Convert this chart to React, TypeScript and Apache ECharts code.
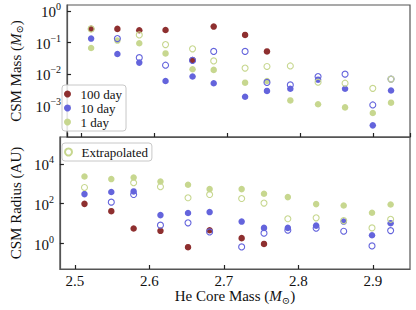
import React, { useEffect, useRef } from "react";
import * as echarts from "echarts";

// He core mass (x) for each model column
const heCoreMass = [2.513, 2.549, 2.579, 2.615, 2.652, 2.681, 2.724, 2.754, 2.786, 2.824, 2.861, 2.899, 2.924];

// CSM mass (Msun)
const mass100 = [0.27, 0.27, 0.245, 0.25, 0.0275, 0.32, 0.174, 0.052, null, null, null, null, null];
const mass10 = [0.133, 0.043, 0.023, 0.006, 0.0083, 0.0051, 0.0019, 0.0029, 0.0034, 0.0066, 0.0034, 0.000234, 0.003];
const mass1 = [0.067, 0.115, 0.095, 0.045, 0.0142, 0.0135, 0.0053, 0.006, 0.00145, 0.0011, 0.00087, 0.00058, 0.00123];
const mass10Ext = [null, 0.133, 0.033, 0.019, 0.027, 0.052, 0.052, 0.0054, 0.0045, 0.0083, 0.0099, 0.00104, 0.0069];
const mass1Ext = [0.27, null, 0.174, 0.086, 0.063, 0.026, 0.0154, 0.0173, 0.018, 0.0055, 0.0051, 0.0035, 0.0069];

// CSM radius (AU)
const rad100 = [96, 41, 5.5, 4.2, 0.63, 4.5, 1.8, 0.92, null, null, null, null, null];
const rad10 = [297, 378, 405, 26, 33, 37, 12.3, 5.9, 5.9, 7.7, 12.3, 2.5, 10.2];
const rad1 = [2300, 1700, 2050, 1290, 880, 530, 530, 310, 210, 93, 79, 34, 89];
const rad10Ext = [null, 117, 283, 8.1, 10.6, 3.7, 0.65, 3.2, 4.5, 5.7, 4.0, 0.73, 4.3];
const rad1Ext = [640, null, 1110, 700, 194, 283, 178, 105, 17, 19, 13.8, 5.9, 16];

const xTickLabels = ["2.5", "2.6", "2.7", "2.8", "2.9"];

const FONT = "'Liberation Serif', 'Times New Roman', 'DejaVu Serif', serif";
const RED = "#8e2f2f";
const BLUE = "#6464dc";
const GREEN = "#c7d78f";
const AXIS = "#555555";

function toPoints(vals: (number | null)[]) {
  const out: [number, number][] = [];
  vals.forEach((v, i) => {
    if (v != null && v > 0) out.push([heCoreMass[i], Math.log10(v)]);
  });
  return out;
}

function powLabel(v: number) {
  const r = Math.round(v);
  if (Math.abs(v - r) > 1e-6) return "";
  const e = r < 0 ? "\u2212" + -r : String(r);
  return "{b|10}{s|" + e + "}";
}

const labelRich = {
  b: { fontSize: 15, fontFamily: FONT, color: "#111", lineHeight: 18, verticalAlign: "bottom" },
  s: { fontSize: 10, fontFamily: FONT, color: "#111", lineHeight: 10, verticalAlign: "top" },
};

const nameRich = {
  n: { fontSize: 15, fontFamily: FONT, color: "#111", lineHeight: 18 },
  i: { fontSize: 15, fontFamily: FONT, color: "#111", fontStyle: "italic", lineHeight: 18 },
  sub: { fontSize: 10, fontFamily: FONT, color: "#111", lineHeight: 18, verticalAlign: "bottom", padding: [6, 0, 0, 0] },
};

export default function App() {
  const ref = useRef<HTMLDivElement>(null);
  useEffect(() => {
    if (!ref.current) return;
    const chart = echarts.init(ref.current, undefined, { renderer: "svg" });

    const filled = (name: string, color: string, vals: (number | null)[], gi: number) => ({
      type: "scatter",
      name,
      xAxisIndex: gi,
      yAxisIndex: gi,
      data: toPoints(vals),
      symbol: "circle",
      symbolSize: 6.5,
      itemStyle: { color, opacity: 1 },
      emphasis: { disabled: true },
    });
    const hollow = (name: string, color: string, vals: (number | null)[], gi: number) => ({
      type: "scatter",
      name,
      xAxisIndex: gi,
      yAxisIndex: gi,
      data: toPoints(vals),
      symbol: "circle",
      symbolSize: 6,
      itemStyle: { color: "rgba(255,255,255,0)", borderColor: color, borderWidth: 1.1, opacity: 1 },
      emphasis: { disabled: true },
    });

    const xAxisBase = {
      type: "value",
      min: 2.48,
      max: 2.95,
      splitNumber: 5,
      axisLine: { show: true, onZero: false, lineStyle: { color: AXIS, width: 1.2 } },
      axisTick: { show: true, inside: true, length: 4, lineStyle: { color: "#222", width: 1.2 } },
      splitLine: { show: false },
    };

    const yAxisBase = {
      type: "value",
      nameLocation: "middle",
      nameRotate: 90,
      axisLine: { show: true, onZero: false, lineStyle: { color: AXIS, width: 1.2 } },
      axisTick: { show: true, inside: true, length: 4, lineStyle: { color: "#222", width: 1.2 } },
      splitLine: { show: false },
      axisLabel: {
        margin: 6,
        formatter: (v: number) => powLabel(v),
        rich: labelRich,
        showMinLabel: false,
        showMaxLabel: false,
      },
    };

    const legendBase = {
      orient: "vertical",
      left: 62,
      itemWidth: 8,
      itemHeight: 7,
      itemGap: 0,
      padding: [2, 4, 2, 2],
      borderColor: "#c8c8c8",
      borderWidth: 1,
      borderRadius: 3,
      backgroundColor: "rgba(255,255,255,0.85)",
      selectedMode: false,
      textStyle: { fontFamily: FONT, fontSize: 13, color: "#111", lineHeight: 14, padding: [0, 0, 0, 4] },
    };

    chart.setOption({
      animation: false,
      backgroundColor: "#ffffff",
      grid: [
        { left: 56, top: 5, width: 354, height: 132, show: true, borderColor: AXIS, borderWidth: 1.2, backgroundColor: "transparent" },
        { left: 56, top: 137, width: 354, height: 132, show: true, borderColor: AXIS, borderWidth: 1.2, backgroundColor: "transparent" },
      ],
      xAxis: [
        { ...xAxisBase, gridIndex: 0, axisLabel: { show: false } },
        {
          ...xAxisBase,
          gridIndex: 1,
          name: "{n|He Core Mass (}{i|M}{sub|\u2299}{n|)}",
          nameLocation: "middle",
          nameGap: 18,
          nameTextStyle: { rich: nameRich },
          axisLabel: {
            margin: 4,
            fontFamily: FONT,
            fontSize: 15,
            color: "#111",
            formatter: (v: number) => {
              const s = v.toFixed(1);
              return xTickLabels.includes(s) && Math.abs(v - parseFloat(s)) < 1e-6 ? s : "";
            },
            showMinLabel: false,
            showMaxLabel: false,
          },
        },
      ],
      yAxis: [
        {
          ...yAxisBase,
          gridIndex: 0,
          min: -4,
          max: 0.19,
          interval: 1,
          name: "{n|CSM Mass (}{i|M}{sub|\u2299}{n|)}",
          nameGap: 29,
          nameTextStyle: { rich: nameRich },
        },
        {
          ...yAxisBase,
          gridIndex: 1,
          min: -1.3,
          max: 5.35,
          splitNumber: 3,
          name: "{n|CSM Radius (AU)}",
          nameGap: 29,
          nameTextStyle: { rich: nameRich },
        },
      ],
      legend: [
        { ...legendBase, top: 85, data: ["100 day", "10 day", "1 day"] },
        { ...legendBase, top: 143, data: ["Extrapolated"] },
      ],
      series: [
        filled("100 day", RED, mass100, 0),
        filled("10 day", BLUE, mass10, 0),
        filled("1 day", GREEN, mass1, 0),
        hollow("Extrapolated 10 day", BLUE, mass10Ext, 0),
        hollow("Extrapolated", GREEN, mass1Ext, 0),
        filled("100 day", RED, rad100, 1),
        filled("10 day", BLUE, rad10, 1),
        filled("1 day", GREEN, rad1, 1),
        hollow("Extrapolated 10 day", BLUE, rad10Ext, 1),
        hollow("Extrapolated", GREEN, rad1Ext, 1),
      ],
    });
    return () => chart.dispose();
  }, []);
  return (
    <div
      ref={ref}
      style={{ position: "fixed", left: 0, top: 0, width: 416, height: 310, background: "#fff" }}
    />
  );
}
